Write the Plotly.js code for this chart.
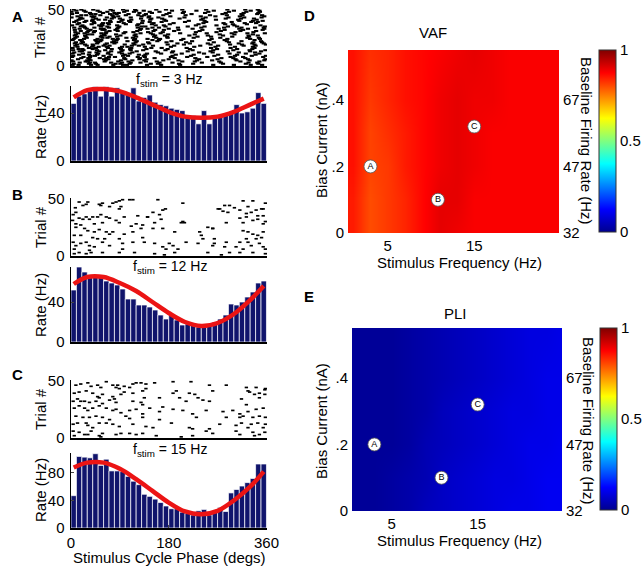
<!DOCTYPE html>
<html><head><meta charset="utf-8">
<script src="https://cdn.plot.ly/plotly-3.0.1.min.js"></script>
<style>html,body{margin:0;padding:0;background:#fff}#plot{width:642px;height:567px}</style>
</head><body><div id="plot"></div>
<script>
// ---------- DATA ----------
const binCenters = [5,15,25,35,45,55,65,75,85,95,105,115,125,135,145,155,165,175,185,195,205,215,225,235,245,255,265,275,285,295,305,315,325,335,345,355];
const rateA = [48,54,56,58,62,54,62,54,61,57,57,61,50,53,55,49,47,46,44,43,42,37,38,31,42,31,36,37,38,40,47,40,41,44,57,48];
const rateB = [52,75,70,67,67,67,61,59,57,53,43,43,37,37,35,32,27,23,28,22,17,18,17,15,16,17,20,23,27,38,37,40,45,50,59,61];
const rateC = [47,104,103,102,108,91,100,83,83,82,75,68,63,49,46,42,37,32,28,28,23,21,19,25,27,19,25,30,24,51,56,61,66,72,93,93];

const fitPhase = [5,30,60,90,120,150,180,210,240,270,300,330,355];
const fitA = [53,59,60,58,53,47,41,37,36,37,41,47,52];
const fitB = [58,65,65,59,51,40,29,20,16,19,28,42,56];
const fitC = [88,95,95,86,71,54,37,24,20,25,40,60,82];

// Raster A: spike phases per row, and the trial number of each row
const trialOrderA = [1,18,35,2,19,36,3,20,37,4,21,38,5,22,39,6,23,40,7,24,41,8,25,42,9,26,43,10,27,44,11,28,45,12,29,46,13,30,47,14,31,48,15,32,49,16,33,50,17,34];
const spikesA = [
[3,14,37,49,78,96,103,140,166,201,262,300,331,352],
[8,29,41,60,71,112,125,151,190,238,271,318,340],
[18,24,55,67,89,130,137,174,215,246,289,306,357],
[5,33,46,82,91,108,147,160,199,225,280,322,345],
[11,26,40,63,99,117,133,178,208,257,293,315,338,359],
[2,21,52,58,85,122,156,171,230,268,301,349],
[16,35,44,74,94,110,128,163,187,241,276,327,343],
[7,19,48,66,80,115,144,196,219,252,309,334,355],
[12,38,57,70,101,124,149,182,235,284,298,324],
[4,27,31,62,87,106,138,158,205,228,273,312,347],
[9,22,50,76,83,119,142,176,212,263,291,336,352],
[15,43,59,68,97,131,152,189,244,281,320,341],
[1,30,36,64,92,113,135,170,198,232,260,305,329,356],
[20,47,54,79,104,121,159,185,223,287,314,350],
[6,25,42,73,88,109,145,167,210,249,296,332,344],
[13,34,61,69,100,126,139,180,236,270,303,326,358],
[3,17,45,56,84,116,150,162,203,255,283,338],
[10,28,39,72,93,107,132,175,217,246,310,335,353],
[19,32,53,65,98,127,154,191,229,277,299,321],
[5,24,49,77,86,118,141,164,207,259,288,330,348],
[14,40,51,63,95,111,146,172,240,267,308,342],
[2,23,35,70,81,123,136,184,214,251,294,317,354],
[8,29,58,67,102,114,157,178,226,275,325,346],
[17,21,46,75,90,129,148,168,200,243,285,313,337],
[4,36,44,60,96,105,134,187,221,264,302,333,359],
[11,27,55,71,85,120,153,177,233,258,297,328],
[1,18,41,66,79,110,143,161,209,248,290,319,351],
[15,33,48,73,99,125,137,193,226,271,306,340],
[7,26,57,62,91,117,155,173,218,252,280,327,344],
[12,38,43,78,87,130,144,183,239,266,311,356],
[3,22,50,68,94,108,140,166,204,245,292,322,347],
[9,31,39,61,83,119,151,179,228,274,301,335],
[19,28,54,76,101,124,135,170,211,256,287,316,352],
[6,34,47,69,89,113,160,186,236,261,309,339],
[13,25,56,64,97,128,147,165,201,250,296,325,357],
[2,37,45,72,84,106,138,176,222,279,314,343],
[16,20,52,74,93,121,156,188,215,257,289,330,350],
[8,30,42,65,100,115,142,169,230,268,303,336],
[11,35,59,80,88,126,149,181,206,247,285,318,345],
[4,23,48,63,95,110,133,174,224,262,299,329,358],
[18,32,44,71,86,122,152,190,237,276,312,341],
[1,27,53,67,98,116,145,163,208,253,291,323,348],
[14,21,40,75,92,109,139,178,219,269,306,334],
[7,36,58,62,82,127,155,171,198,242,283,317,353],
[10,24,49,77,103,120,134,186,231,263,300,331,347],
[3,33,46,68,90,111,148,167,213,258,294,338],
[16,29,55,60,85,129,141,180,224,272,310,326,356],
[5,19,41,73,96,118,157,175,205,249,288,321,344],
[12,39,51,66,94,104,136,184,227,266,302,335],
[6,26,43,70,87,123,150,162,197,240,282,314,339,355]
];

// Raster B: spike phase / trial pairs
const spikesBPhase = [15,28,31,52,58,77,83,89,95,108,114,160,206,274,283,292,301,317,326,335,358,354,
8,22,55,71,89,92,141,151,169,174,206,203,271,280,289,311,323,332,341,344,354,351,
4,9,15,22,28,34,40,49,55,65,71,83,98,123,141,163,166,252,261,311,317,323,335,344,354,358,9,3,18,43,58,89,111,120,132,154,209,286,
9,25,31,43,52,65,71,77,98,114,129,151,169,191,237,240,261,317,326,335,344,354,6,18,40,49,62,89,132,243,264,323,341,351,
4,9,18,28,34,43,58,71,95,114,135,154,169,181,188,234,261,264,283,286,311,326,332,347,354,358,6,15,28,37,58,89,117,154,172,191,252,277,292,311,335,358,6,34,95,175,197,212,304,317];
const spikesBTrial = [47,45,47,45,46,46,47,48,49,49,49,49,46,41,44,44,42,48,43,48,46,41,
42,44,44,43,41,43,34,38,40,41,30,29,41,39,38,40,37,38,40,35,35,41,
36,38,33,32,34,32,34,34,36,34,33,31,34,35,34,36,32,25,24,33,29,34,31,32,28,30,28,31,27,28,29,29,26,28,27,29,29,29,
25,24,22,21,23,21,19,21,19,21,24,24,24,21,21,18,24,22,21,19,18,21,18,18,16,15,15,15,16,15,15,15,15,16,
12,9,11,12,9,8,12,9,11,12,12,11,8,11,9,11,9,11,8,12,12,12,9,11,8,6,6,3,2,3,3,3,3,2,1,3,3,1,3,3,3,2,2,5,6,6,6,12,8,6];

// Raster C: spike phase / trial pairs
const spikesCPhase = [9,18,31,37,49,55,65,77,83,86,89,98,108,114,120,129,138,138,154,188,221,255,286,323,326,341,347,358,329,338,357,
6,15,28,40,49,52,58,77,80,92,98,114,132,135,163,188,194,200,218,228,234,255,261,314,323,347,357,4,12,18,25,34,46,58,71,83,114,129,132,169,212,243,
6,15,25,31,40,52,65,77,83,92,108,120,132,145,163,188,206,224,249,280,298,311,317,326,341,354,9,22,34,46,58,71,101,108,132,163,231,286,311,335,347,358,
4,12,28,31,40,52,65,77,89,114,138,151,185,218,224,255,274,304,314,326,332,344,354,358,4,15,25,37,52,58,83,92,108,120,157,203,224,249,261,304,311,335,338,347,357,6,31,55,132];
const spikesCTrial = [46,47,48,45,46,44,49,46,44,46,43,45,44,47,48,48,47,43,48,49,49,46,46,44,41,44,39,43,40,38,42,
39,40,41,39,36,35,38,36,34,38,40,39,41,35,35,39,41,35,39,38,35,32,41,34,29,35,38,32,34,32,32,31,32,30,33,31,32,31,29,27,32,33,
26,28,26,24,26,28,26,24,25,22,24,25,21,26,23,25,24,21,24,23,24,21,19,23,25,26,19,18,18,19,18,16,19,17,18,16,18,18,18,18,19,18,
12,13,13,11,9,13,13,12,10,12,10,9,13,9,8,8,12,11,13,9,12,13,9,12,6,5,3,6,2,4,3,4,4,3,2,1,2,6,4,6,3,5,2,3,5,2,3,1,4];

// Heatmaps
const freqs = [1,3,5,7,9,11,13,15,17,19,21,23,25];
const bias = [0,0.1,0.2,0.3,0.4,0.55];
const vaf = [
[0.85,0.80,0.82,0.84,0.87,0.90,0.89,0.88,0.88,0.88,0.88,0.88,0.88],
[0.85,0.80,0.82,0.84,0.87,0.90,0.90,0.88,0.88,0.88,0.88,0.88,0.88],
[0.86,0.81,0.82,0.85,0.87,0.89,0.90,0.89,0.88,0.88,0.88,0.88,0.88],
[0.86,0.81,0.83,0.85,0.87,0.89,0.90,0.89,0.88,0.88,0.88,0.88,0.88],
[0.86,0.82,0.84,0.86,0.87,0.89,0.90,0.89,0.89,0.88,0.88,0.88,0.88],
[0.86,0.83,0.84,0.86,0.87,0.88,0.89,0.90,0.89,0.88,0.88,0.88,0.88]
];
const pli = [
[0.01,0.01,0.02,0.03,0.05,0.06,0.07,0.08,0.09,0.10,0.10,0.11,0.11],
[0.01,0.01,0.02,0.03,0.04,0.06,0.07,0.08,0.09,0.09,0.10,0.11,0.11],
[0.01,0.01,0.01,0.02,0.04,0.05,0.06,0.07,0.08,0.09,0.10,0.10,0.11],
[0.01,0.01,0.01,0.02,0.03,0.05,0.06,0.07,0.08,0.09,0.09,0.10,0.10],
[0.01,0.01,0.01,0.02,0.03,0.04,0.05,0.06,0.07,0.08,0.09,0.10,0.10],
[0.01,0.01,0.01,0.02,0.03,0.04,0.05,0.06,0.07,0.08,0.09,0.09,0.10]
];
const markFreq = [3,10.8,15];
const markBias = [0.2,0.1,0.32];
const markLabel = ['A','B','C'];
const fstimLabels = ['3','12','15'];

// ---------- HELPERS ----------
const W=642,H=567;
const dx=(a,b)=>[a/W,b/W];
const dy=(t,b)=>[1-b/H,1-t/H];
const FONT='Liberation Sans, Arial, sans-serif';
const jet=[[0,'rgb(0,0,143)'],[0.125,'rgb(0,0,255)'],[0.375,'rgb(0,255,255)'],[0.625,'rgb(255,255,0)'],[0.875,'rgb(255,0,0)'],[1,'rgb(128,0,0)']];

function flatRaster(sp,order){const x=[],y=[];sp.forEach((row,i)=>row.forEach(p=>{x.push(p);y.push(order[i]);}));return {x,y};}
const rA=flatRaster(spikesA,trialOrderA);

function raster(x,y,xa,ya,sz,lw){return {type:'scatter',mode:'markers',x:x,y:y,xaxis:xa,yaxis:ya,
  marker:{symbol:'line-ew',size:sz,color:'black',line:{color:'black',width:lw}},hoverinfo:'skip',showlegend:false,cliponaxis:true};}
function bars(v,xa,ya){return {type:'bar',x:binCenters,y:v,width:10,xaxis:xa,yaxis:ya,marker:{color:'rgb(16,20,108)',line:{color:'white',width:0.7}},showlegend:false};}
function fit(v,xa,ya){return {type:'scatter',mode:'lines',x:fitPhase,y:v,xaxis:xa,yaxis:ya,line:{color:'rgb(235,20,20)',width:4.5,shape:'spline'},showlegend:false};}

const cbFont={family:FONT,size:15,color:'black'};
const traces=[
 raster(rA.x,rA.y,'x','y',3,2.1), bars(rateA,'x2','y2'), fit(fitA,'x2','y2'),
 raster(spikesBPhase,spikesBTrial,'x3','y3',2.4,1.7), bars(rateB,'x4','y4'), fit(fitB,'x4','y4'),
 raster(spikesCPhase,spikesCTrial,'x5','y5',2.4,1.7), bars(rateC,'x6','y6'), fit(fitC,'x6','y6'),
 {type:'heatmap',x:freqs,y:bias,z:vaf,colorscale:jet,zmin:0,zmax:1,zsmooth:'best',xaxis:'x7',yaxis:'y7',
  colorbar:{x:599/W,xanchor:'left',y:1-50/H,yanchor:'top',len:182/H,lenmode:'fraction',thickness:17,thicknessmode:'pixels',
   outlinewidth:1,outlinecolor:'#333',tickvals:[0,0.5,1],ticktext:['0','0.5','1'],ticks:'',ticklabelstandoff:0,tickfont:cbFont,xpad:0,ypad:0}},
 {type:'scatter',mode:'markers+text',x:markFreq,y:markBias,text:markLabel,textposition:'middle center',xaxis:'x7',yaxis:'y8',
  marker:{size:13,color:'white',line:{color:'#555',width:0.8}},textfont:{family:FONT,size:9,color:'black'},showlegend:false},
 {type:'heatmap',x:freqs,y:bias,z:pli,colorscale:jet,zmin:0,zmax:1,zsmooth:'best',xaxis:'x9',yaxis:'y9',
  colorbar:{x:600/W,xanchor:'left',y:1-328/H,yanchor:'top',len:182/H,lenmode:'fraction',thickness:17,thicknessmode:'pixels',
   outlinewidth:1,outlinecolor:'#333',tickvals:[0,0.5,1],ticktext:['0','0.5','1'],ticks:'',ticklabelstandoff:0,tickfont:cbFont,xpad:0,ypad:0}},
 {type:'scatter',mode:'markers+text',x:markFreq,y:markBias,text:markLabel,textposition:'middle center',xaxis:'x9',yaxis:'y10',
  marker:{size:13,color:'white',line:{color:'#555',width:0.8}},textfont:{family:FONT,size:9,color:'black'},showlegend:false}
];

const tf={family:FONT,size:15,color:'black'};
function lx(anchor,showLabels){return {domain:dx(71,267),range:[0,361],anchor:anchor,showline:true,linecolor:'black',linewidth:1.5,showgrid:false,zeroline:false,
  ticks:showLabels?'inside':'',ticklen:3,tickvals:[0,180,360],showticklabels:showLabels,tickfont:tf,ticklabelstandoff:0,fixedrange:true};}
function ly(anchor,top,bot,rng,tv){return {domain:dy(top,bot),range:rng,anchor:anchor,showline:true,linecolor:'black',linewidth:1.5,showgrid:false,zeroline:false,
  ticks:'inside',ticklen:3,tickvals:tv,tickfont:tf,ticklabelstandoff:2,fixedrange:true};}
function hx(anchor,a,b){return {domain:dx(a,b),range:[0.4,24.8],anchor:anchor,showline:false,showgrid:false,zeroline:false,ticks:'',tickvals:[5,15,25],tickfont:tf,ticklabelstandoff:2};}
function hy(anchor,top,bot){return {domain:dy(top,bot),range:[0,0.55],anchor:anchor,showline:false,showgrid:false,zeroline:false,ticks:'',tickvals:[0,0.2,0.4],ticktext:['0','.2','.4'],tickfont:tf,ticklabelstandoff:3};}
function hy2(over,anchor,top,bot){return {domain:dy(top,bot),range:[0,0.55],overlaying:over,side:'right',anchor:anchor,showline:false,showgrid:false,zeroline:false,ticks:'',tickvals:[0,0.2,0.4],ticktext:['32','47','67'],tickfont:tf,ticklabelstandoff:3};}

const ann=[];
function A(text,x,y,opt){ann.push(Object.assign({text:text,x:x/W,y:1-y/H,xref:'paper',yref:'paper',showarrow:false,font:{family:FONT,size:15,color:'black'},xanchor:'center',yanchor:'middle'},opt||{}));}
A('<b>A</b>',17,16);
A('<b>B</b>',17,194);
A('<b>C</b>',17,374);
A('<b>D</b>',309,15);
A('<b>E</b>',309,296);
[[37,80,127],[227,267,305],[409,450,490]].forEach((r,i)=>{
  A('Trial #',40,r[0],{textangle:-90});
  A('Rate (Hz)',40,r[2],{textangle:-90});
  A('f<sub>stim</sub> = '+fstimLabels[i]+' Hz',170,r[1],{font:{family:FONT,size:14,color:'black'}});
});
A('Stimulus Cycle Phase (degs)',170,557);
A('VAF',433,33);
A('PLI',455,313);
A('Bias Current (nA)',321,140,{textangle:-90});
A('Bias Current (nA)',321,421,{textangle:-90});
A('Baseline Firing Rate (Hz)',586,141,{textangle:90});
A('Baseline Firing Rate (Hz)',589,421,{textangle:90});
A('Stimulus Frequency (Hz)',459,262);
A('Stimulus Frequency (Hz)',459,540);

const layout={
 width:W,height:H,margin:{l:0,r:0,t:0,b:0},paper_bgcolor:'white',plot_bgcolor:'rgba(0,0,0,0)',showlegend:false,bargap:0,
 font:{family:FONT,size:15,color:'black'},
 xaxis:lx('y',false), yaxis:ly('x',9,66,[0,50.5],[0,50]),
 xaxis2:lx('y2',false), yaxis2:ly('x2',86,161,[0,62.5],[0,40]),
 xaxis3:lx('y3',false), yaxis3:ly('x3',198,256,[0,50.5],[0,50]),
 xaxis4:lx('y4',false), yaxis4:ly('x4',267,342,[0,75],[0,40]),
 xaxis5:lx('y5',false), yaxis5:ly('x5',380,438,[0,50.5],[0,50]),
 xaxis6:lx('y6',true), yaxis6:ly('x6',453,528,[0,109],[0,40,80]),
 xaxis7:hx('y7',348,559), yaxis7:hy('x7',50,233), yaxis8:hy2('y7','x7',50,233),
 xaxis9:hx('y9',352,562), yaxis9:hy('x9',328,511), yaxis10:hy2('y9','x9',328,511),
 annotations:ann
};
Plotly.newPlot('plot',traces,layout,{staticPlot:true,displayModeBar:false});
</script></body></html>
